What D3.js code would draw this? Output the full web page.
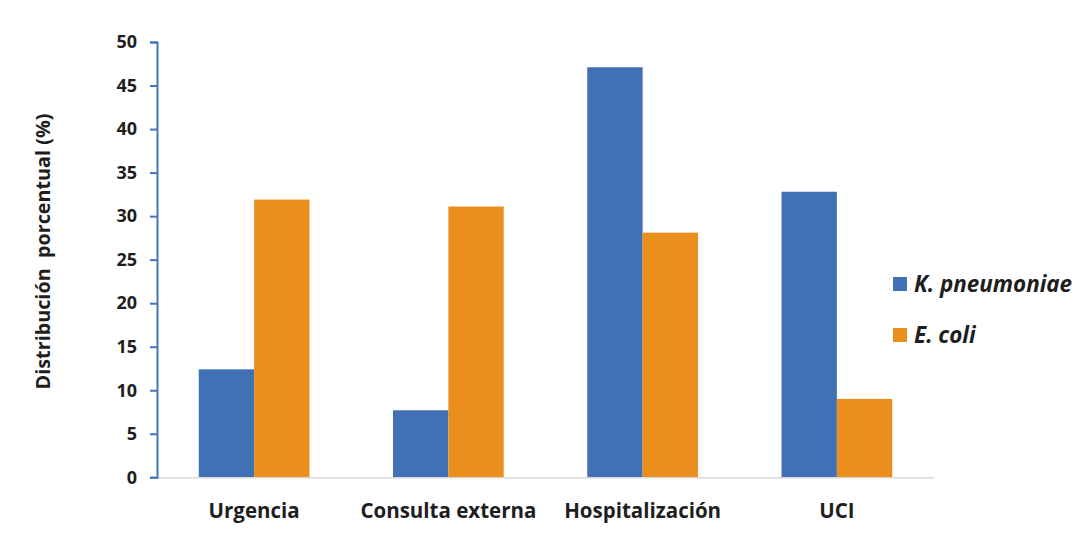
<!DOCTYPE html>
<html>
<head>
<meta charset="utf-8">
<script src="https://cdn.jsdelivr.net/npm/d3@7"></script>
<style>
  html, body { margin: 0; padding: 0; background: #fff; }
  svg { display: block; }
</style>
</head>
<body>
<svg id="chart" width="1078" height="538"></svg>
<script>
const categories = ["Urgencia", "Consulta externa", "Hospitalización", "UCI"];
const seriesNames = ["K. pneumoniae", "E. coli"];
const kpneumoniae = [12.4, 7.7, 47.1, 32.8];
const ecoli = [31.9, 31.1, 28.1, 9.0];
const yTicks = [0, 5, 10, 15, 20, 25, 30, 35, 40, 45, 50];
const yTitle = "Distribución  porcentual (%)";

const colors = ["#4170B4", "#EA8E1E"];
const seriesValues = [kpneumoniae, ecoli];
const font = "'Open Sans', Lato, sans-serif";
const textColor = "#1e1e1e";

const svg = d3.select("#chart");

const x0 = d3.scaleBand().domain(categories).range([157, 934]).paddingInner(0.43).paddingOuter(0.215);
const x1 = d3.scaleBand().domain(seriesNames).range([0, x0.bandwidth()]).padding(0);
const y = d3.scaleLinear().domain([0, 50]).range([477.3, 42]);

// bars
const groups = svg.append("g").selectAll("g")
  .data(categories)
  .join("g")
  .attr("transform", d => `translate(${x0(d)},0)`);

groups.selectAll("rect")
  .data((d, i) => seriesNames.map((s, j) => ({ s, v: seriesValues[j][i], j })))
  .join("rect")
  .attr("x", d => x1(d.s))
  .attr("width", x1.bandwidth())
  .attr("y", d => y(d.v))
  .attr("height", d => y(0) - y(d.v))
  .attr("fill", d => colors[d.j]);

// x baseline
const xAxis = svg.append("g")
  .attr("transform", `translate(0,${y(0)})`)
  .call(d3.axisBottom(x0).tickSize(0).tickPadding(26.5));
xAxis.select(".domain").attr("stroke", "#d9d9d9").attr("stroke-width", 1.6);
xAxis.selectAll("text")
  .attr("fill", textColor)
  .style("font-family", font)
  .style("font-weight", "700")
  .style("font-size", "20.5px");

// y axis
const yAxis = svg.append("g")
  .attr("transform", `translate(157,0)`)
  .call(d3.axisLeft(y).tickValues(yTicks).tickSize(7).tickSizeOuter(7).tickPadding(13));
yAxis.selectAll(".domain, line").attr("stroke", "#4472C4").attr("stroke-width", 2);
yAxis.selectAll("text")
  .attr("fill", textColor)
  .style("font-family", font)
  .style("font-weight", "700")
  .style("font-size", "18px");

// y title
svg.append("text")
  .attr("transform", `translate(50,${(113 + 390) / 2}) rotate(-90)`)
  .attr("text-anchor", "middle")
  .attr("fill", textColor)
  .style("font-family", font)
  .style("font-weight", "700")
  .style("font-size", "19.8px")
  .style("white-space", "pre")
  .text(yTitle);

// legend
const legendY = d3.scalePoint().domain(seriesNames).range([284, 335]);
const legend = svg.append("g").selectAll("g")
  .data(seriesNames)
  .join("g")
  .attr("transform", d => `translate(893,${legendY(d)})`);
legend.append("rect")
  .attr("x", 0).attr("y", -7).attr("width", 14).attr("height", 14)
  .attr("fill", (d, i) => colors[i]);
legend.append("text")
  .attr("x", 21).attr("y", 8)
  .attr("fill", textColor)
  .style("font-family", font)
  .style("font-weight", "700")
  .style("font-style", "italic")
  .style("font-size", "22.4px")
  .text(d => d);
</script>
</body>
</html>
